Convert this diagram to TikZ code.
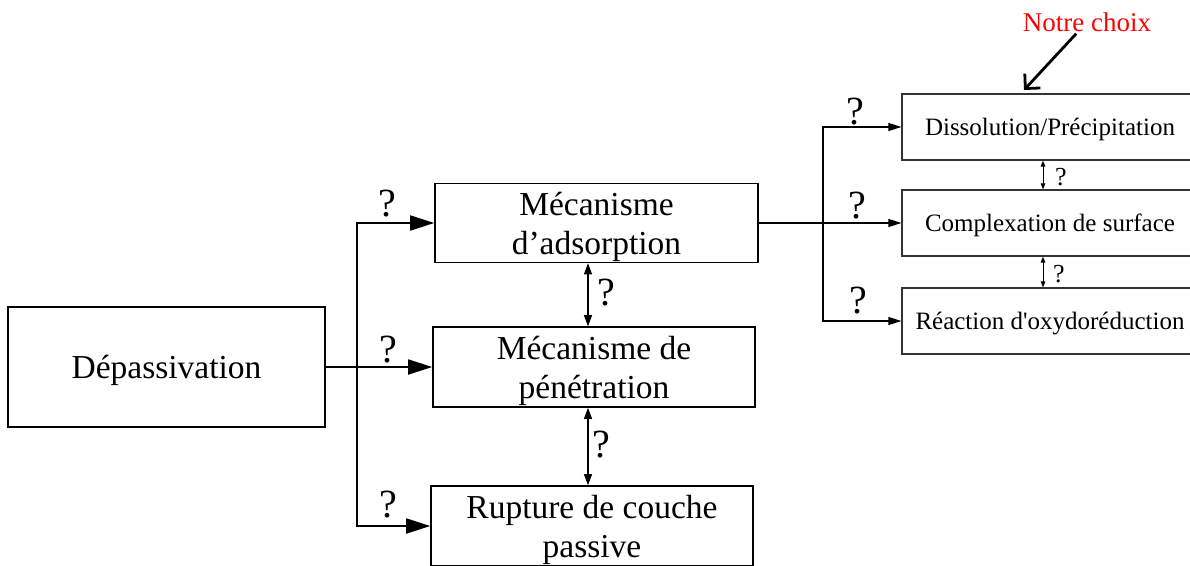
\documentclass[tikz,border=0pt]{standalone}
\usepackage{fontspec}
\setmainfont{Liberation Serif}
\usetikzlibrary{arrows.meta, positioning}

\begin{document}
\begin{tikzpicture}[x=1pt,y=-1pt,
    fat/.style={line width=1.8pt,-{Triangle[length=24pt,width=15pt]}},
    slim/.style={line width=1.1pt,-{Triangle[length=13pt,width=8pt]}},
    twoway/.style={line width=1.1pt,{Triangle[length=11pt,width=8pt]}-{Triangle[length=11pt,width=8pt]}},
    tinyway/.style={line width=0.9pt,{Triangle[length=6pt,width=4.5pt]}-{Triangle[length=6pt,width=4.5pt]}},
    qmark/.style={font=\fontsize{40}{40}\selectfont,inner sep=0pt,anchor=base},
    qsmall/.style={font=\fontsize{26}{26}\selectfont,inner sep=0pt,anchor=base}]
  \useasboundingbox (0,0) rectangle (1190,565);
  % left part
  \begin{scope}[every node/.style={draw,line width=1.6pt,align=center,inner sep=0pt,text depth=0pt,font=\fontsize{33.5}{39}\selectfont}]
    \node[minimum width=317pt,minimum height=120pt] (dep) at (166.5,367) {Dépassivation};
    \node[minimum width=323pt,minimum height=79pt] (ads) at (596.5,223) {Mécanisme\\d’adsorption};
    \node[minimum width=322pt,minimum height=80pt] (pen) at (594,367) {Mécanisme de\\pénétration};
    \node[minimum width=322pt,minimum height=80pt] (rup) at (592,526) {Rupture de couche\\passive};
  \end{scope}
  % right part
  \begin{scope}[every node/.style={draw=black!80,line width=1.2pt,minimum width=296pt,minimum height=66pt,text depth=0pt,font=\fontsize{25}{28}\selectfont}]
    \node (dis) at (1050,127) {Dissolution/Précipitation};
    \node (com) at (1050,223) {Complexation de surface};
    \node (oxy) at (1050,321) {Réaction d\textquotesingle oxydoréduction};
  \end{scope}
  \node[text=red,inner sep=2pt,font=\fontsize{27}{30}\selectfont] (note) at (1087,22) {Notre choix};

  \coordinate (bus) at (357,367);
  \coordinate (rbus) at (823,223);
  \coordinate (ax) at (588,0);
  \coordinate (rx) at (1043,0);
  \coordinate (pick) at (1024,90);

  \begin{scope}[every edge/.style={draw,fat}]
    \path (dep) edge (pen);
  \end{scope}
  \draw[fat] (bus) |- (ads);
  \draw[fat] (bus) |- (rup);
  \draw[twoway] (ax |- ads.south) -- (ax |- pen.north);
  \draw[twoway] (ax |- pen.south) -- (ax |- rup.north);

  \begin{scope}[every edge/.style={draw,slim}]
    \path (ads) edge (com);
  \end{scope}
  \draw[slim] (rbus) |- (dis);
  \draw[slim] (rbus) |- (oxy);
  \draw[tinyway] (rx |- dis.south) -- (rx |- com.north);
  \draw[tinyway] (rx |- com.south) -- (rx |- oxy.north);

  \draw[line width=2.8pt,-{Straight Barb[angle=90:15pt]}] (note) -- (pick);

  % question marks
  \node[qmark] (q1) at (387,216) {?};
  \node[qmark] (q2) at (388,362) {?};
  \node[qmark] (q3) at (388,517) {?};
  \node[qmark] (q4) at (606,305) {?};
  \node[qmark] (q5) at (601,457) {?};
  \node[qmark] (q6) at (855,124) {?};
  \node[qmark] (q7) at (857,218) {?};
  \node[qmark] (q8) at (858,313) {?};
  \node[qsmall] (q9) at (1061,185) {?};
  \node[qsmall] (q10) at (1059,282) {?};
\end{tikzpicture}
\end{document}
